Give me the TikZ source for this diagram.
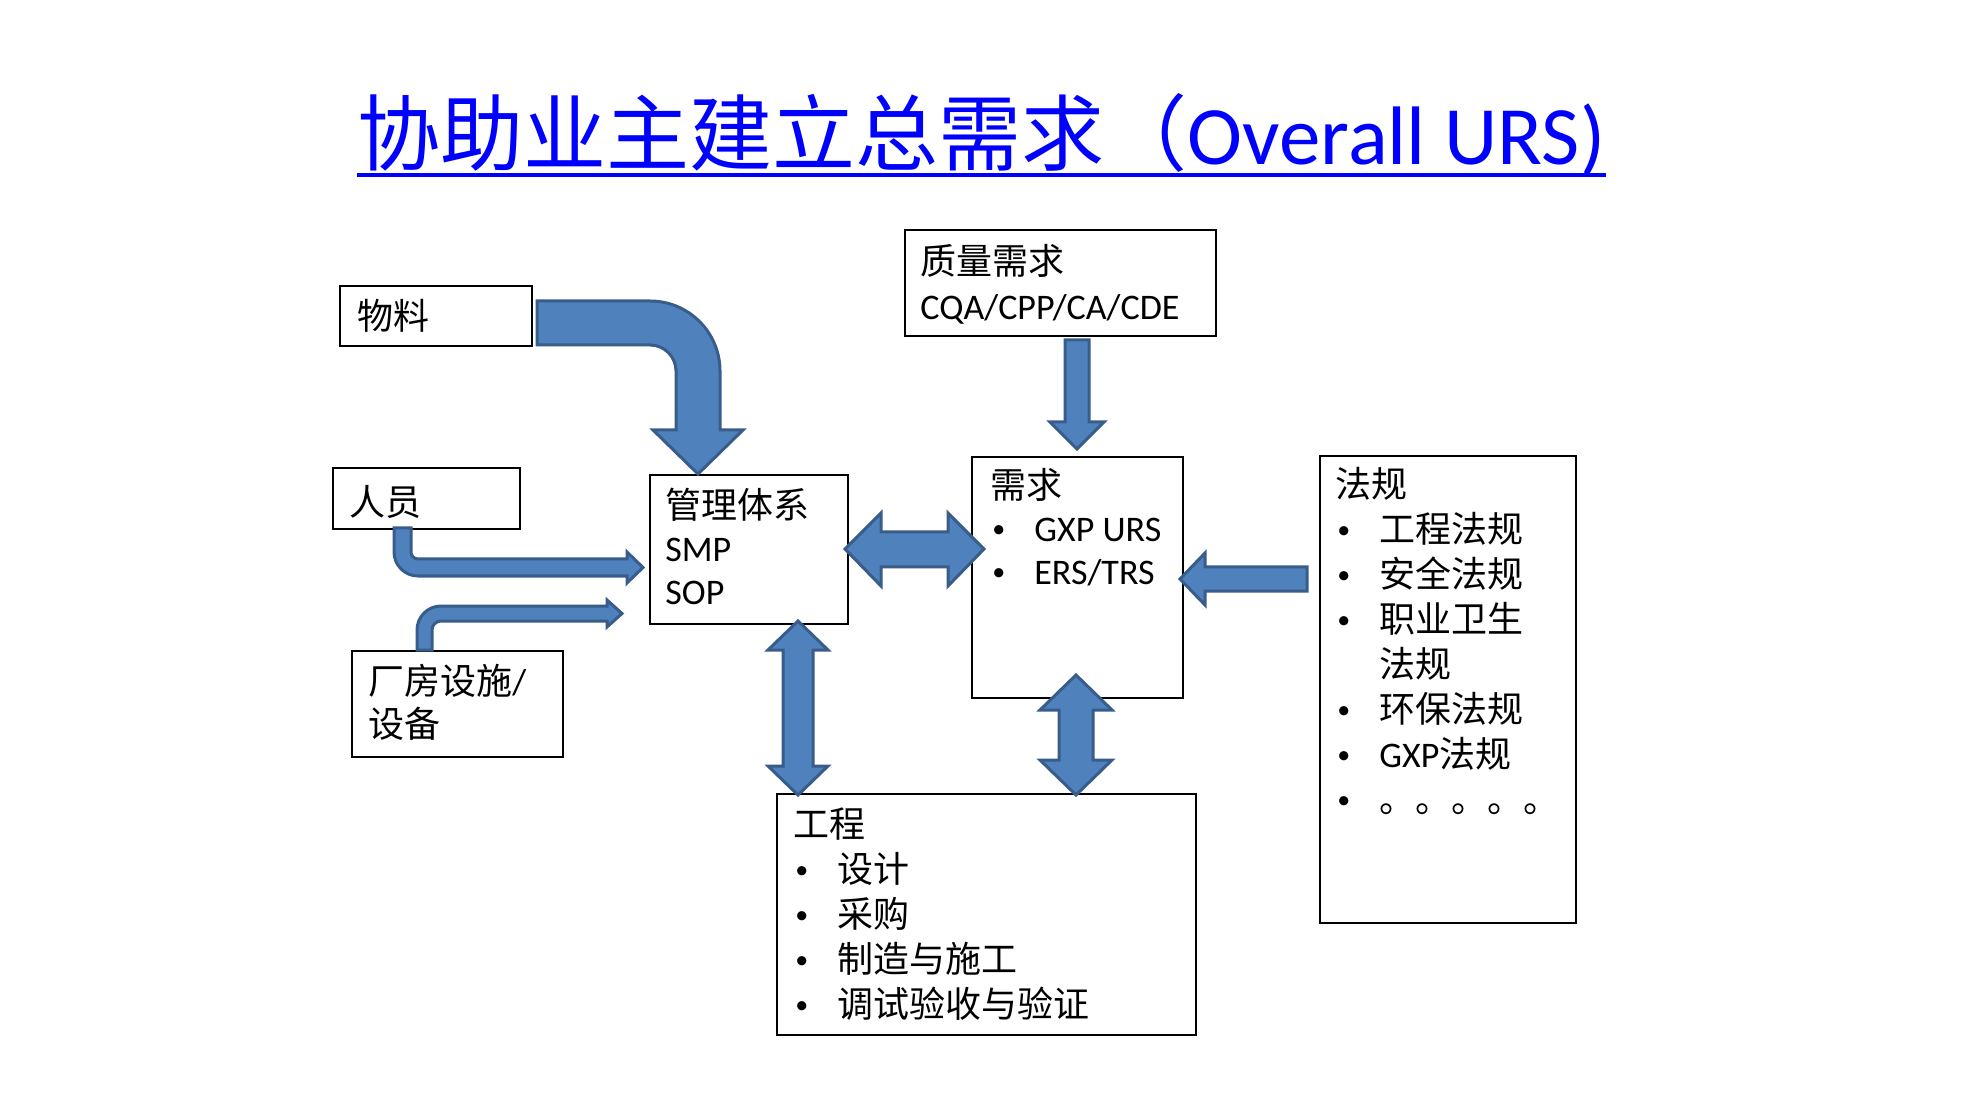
\documentclass[tikz,border=0pt]{standalone}
\usepackage{fontspec}
\setmainfont{Carlito}
\newfontfamily\zhfont{Noto Sans CJK SC}
\usetikzlibrary{calc}
\definecolor{arrowfill}{RGB}{79,129,189}
\definecolor{arrowline}{RGB}{56,93,138}
\definecolor{titleblue}{RGB}{0,0,255}
\newcommand{\bodyfont}{\fontsize{18pt}{22.5pt}\selectfont}
\newcommand{\tightfont}{\fontsize{18pt}{21.5pt}\selectfont}
\newcommand{\bul}{\hspace{1pt}\makebox[21pt][l]{\raisebox{2pt}{\fontsize{13pt}{13pt}\selectfont •}}}
\tikzstyle{box} = [rectangle, draw=black, line width=1pt, anchor=north west, inner sep=0pt]
\tikzstyle{txt} = [anchor=north west, inner sep=0pt, font=\bodyfont]
\tikzstyle{tighttxt} = [anchor=north west, inner sep=0pt, font=\tightfont]
\tikzstyle{heading} = [anchor=base, inner sep=0pt, text=titleblue, font=\fontsize{41.5pt}{49pt}\selectfont]
\tikzstyle{blockarrow} = [fill=arrowfill, draw=arrowline, line width=1.5pt, line join=miter]
\begin{document}
\begin{tikzpicture}[x=0.5pt, y=-0.5pt]
\useasboundingbox[fill=white] (0,0) rectangle (1973,1111);

% title
\node (title) [heading] at (981.5,165) {{\zhfont 协助业主建立总需求（}Overall URS)};
\draw [titleblue, line width=2pt] ($(title.base west)+(0,10)$) -- ($(title.base east)+(0,10)$);

% boxes
\node (wuliao) [box, minimum width=96pt, minimum height=30pt] at (339,285) {};
\node (renyuan) [box, minimum width=93.5pt, minimum height=30.5pt] at (332,467) {};
\node (changfang) [box, minimum width=105.5pt, minimum height=53pt] at (351,650) {};
\node (guanli) [box, minimum width=99pt, minimum height=74.5pt] at (649,474) {};
\node (xuqiu) [box, minimum width=105.5pt, minimum height=120.5pt] at (971,456) {};
\node (zhiliang) [box, minimum width=155.5pt, minimum height=53pt] at (904,229) {};
\node (fagui) [box, minimum width=128pt, minimum height=233.5pt] at (1319,455) {};
\node (gongcheng) [box, minimum width=209.5pt, minimum height=120.5pt] at (776,793) {};

% box texts
\node (wuliaotxt) [txt] at (357,297.5) {\begin{tabular}{@{}l@{}}{\zhfont 物料}\end{tabular}};
\node (renyuantxt) [txt] at (349,484) {\begin{tabular}{@{}l@{}}{\zhfont 人员}\end{tabular}};
\node (changfangtxt) [tighttxt] at (368,664) {\begin{tabular}{@{}l@{}}{\zhfont 厂房设施}/\\{\zhfont 设备}\end{tabular}};
\node (guanlitxt) [tighttxt] at (665,488) {\begin{tabular}{@{}l@{}}{\zhfont 管理体系}\\SMP\\SOP\end{tabular}};
\node (xuqiutxt) [tighttxt] at (990,468) {\begin{tabular}{@{}l@{}}{\zhfont 需求}\\\bul GXP URS\\\bul ERS/TRS\end{tabular}};
\node (zhiliangtxt) [txt] at (920,242.5) {\begin{tabular}{@{}l@{}}{\zhfont 质量需求}\\CQA/CPP/CA/CDE\end{tabular}};
\node (faguitxt) [txt] at (1335,465.5) {\begin{tabular}{@{}l@{}}{\zhfont 法规}\\\bul{\zhfont 工程法规}\\\bul{\zhfont 安全法规}\\\bul{\zhfont 职业卫生}\\\hspace{22pt}{\zhfont 法规}\\\bul{\zhfont 环保法规}\\\bul GXP{\zhfont 法规}\\\bul{\zhfont 。。。。。}\end{tabular}};
\node (gongchengtxt) [txt] at (793,805.5) {\begin{tabular}{@{}l@{}}{\zhfont 工程}\\\bul{\zhfont 设计}\\\bul{\zhfont 采购}\\\bul{\zhfont 制造与施工}\\\bul{\zhfont 调试验收与验证}\end{tabular}};

% block arrows
\draw [blockarrow] (537,301) -- (650,301) arc[start angle=90, end angle=0, radius=35pt] -- (720,430) -- (743,430) -- (698,474) -- (653,430) -- (676,430) -- (676,371) arc[start angle=0, end angle=90, radius=13pt] -- (537,345) -- cycle;
\draw [blockarrow] (394,528) -- (394,552) arc[start angle=180, end angle=270, radius=12pt] -- (627,576) -- (627,583) -- (643,567.5) -- (627,552) -- (627,559) -- (418,559) arc[start angle=270, end angle=180, radius=3.5pt] -- (411,528) -- cycle;
\draw [blockarrow] (417,650) -- (417,630) arc[start angle=180, end angle=90, radius=12pt] -- (607,606) -- (607,600) -- (622,613.5) -- (607,627) -- (607,621) -- (441,621) arc[start angle=90, end angle=180, radius=4.5pt] -- (432,650) -- cycle;
\draw [blockarrow] (1065,340) -- (1089,340) -- (1089,422) -- (1104,422) -- (1077,449) -- (1050,422) -- (1065,422) -- cycle;
\draw [blockarrow] (1307,567) -- (1205,567) -- (1205,553) -- (1180,579) -- (1205,605) -- (1205,591) -- (1307,591) -- cycle;
\draw [blockarrow] (845,549) -- (881,513) -- (881,532) -- (948,532) -- (948,513) -- (984,549) -- (948,586) -- (948,567) -- (881,567) -- (881,586) -- cycle;
\draw [blockarrow] (798,621) -- (828,650) -- (813,650) -- (813,766) -- (828,766) -- (798,795) -- (768,766) -- (783,766) -- (783,650) -- (768,650) -- cycle;
\draw [blockarrow] (1076,675) -- (1112,710) -- (1093,710) -- (1093,760) -- (1112,760) -- (1076,795) -- (1040,760) -- (1059,760) -- (1059,710) -- (1040,710) -- cycle;
\end{tikzpicture}
\end{document}
